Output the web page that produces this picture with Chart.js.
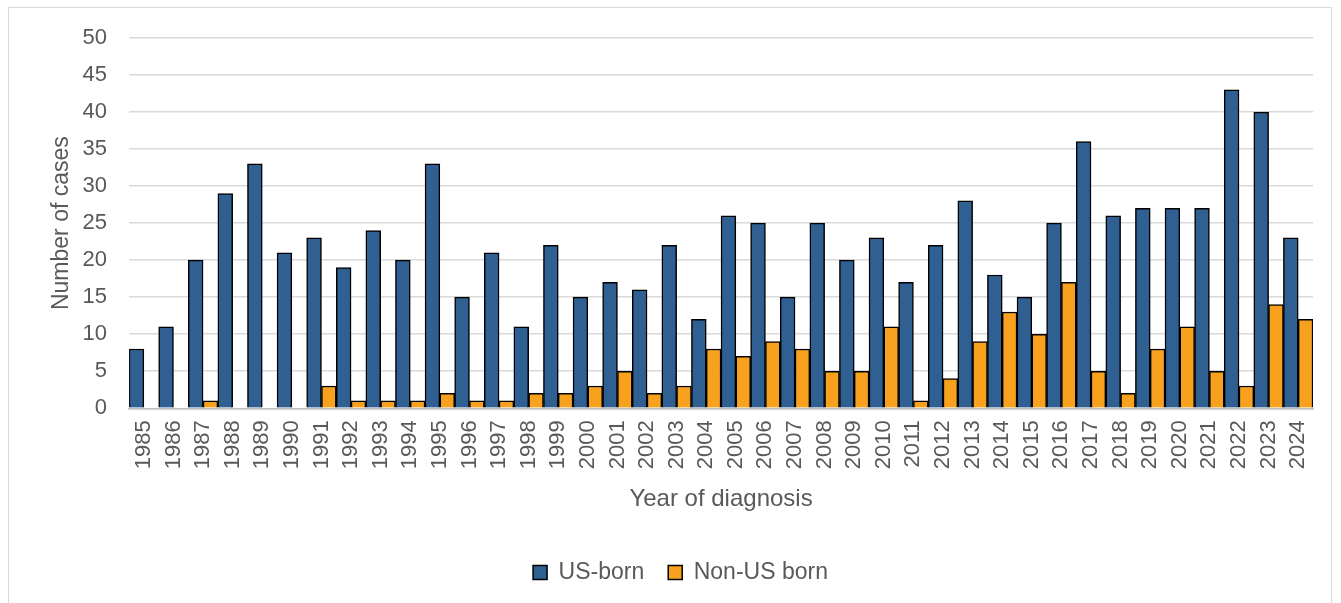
<!DOCTYPE html>
<html>
<head>
<meta charset="utf-8">
<script src="https://cdn.jsdelivr.net/npm/chart.js@4/dist/chart.umd.min.js"></script>
<style>
  html, body { margin: 0; padding: 0; background: #fff; overflow: hidden; }
  #frame {
    position: absolute; left: 8px; top: 7px;
    width: 1324px; height: 620px;
    border: 1px solid #d9d9d9; box-sizing: border-box;
  }
  #wrap { position: absolute; left: 1px; top: 1px; width: 1322px; height: 595px; }
</style>
</head>
<body>
<div id="frame"><div id="wrap"><canvas id="casesChart"></canvas></div></div>
<script>
const years = ['1985','1986','1987','1988','1989','1990','1991','1992','1993','1994',
  '1995','1996','1997','1998','1999','2000','2001','2002','2003','2004',
  '2005','2006','2007','2008','2009','2010','2011','2012','2013','2014',
  '2015','2016','2017','2018','2019','2020','2021','2022','2023','2024'];
const usBorn = [8, 11, 20, 29, 33, 21, 23, 19, 24, 20,
  33, 15, 21, 11, 22, 15, 17, 16, 22, 12,
  26, 25, 15, 25, 20, 23, 17, 22, 28, 18,
  15, 25, 36, 26, 27, 27, 27, 43, 40, 23];
const nonUsBorn = [0, 0, 1, 0, 0, 0, 3, 1, 1, 1,
  2, 1, 1, 2, 2, 3, 5, 2, 3, 8,
  7, 9, 8, 5, 5, 11, 1, 4, 9, 13,
  10, 17, 5, 2, 8, 11, 5, 3, 14, 12];
const yTicks = [0, 5, 10, 15, 20, 25, 30, 35, 40, 45, 50];

const textColor = '#595959';
const fontFamily = '"Liberation Sans", Arial, sans-serif';

// zero values get no bar at all (no outline, no fill)
const outline = ctx => (ctx.raw === 0 ? 0 : 1.5);
const fillFor = color => ctx => (ctx.raw === 0 ? 'rgba(0,0,0,0)' : color);

const ctx = document.getElementById('casesChart').getContext('2d');
window.casesChart = new Chart(ctx, {
  type: 'bar',
  data: {
    labels: years,
    datasets: [{
      label: 'US-born',
      data: usBorn,
      backgroundColor: fillFor('#305F92'),
      borderColor: '#000000',
      borderWidth: outline,
      borderSkipped: 'bottom',
      categoryPercentage: 1.0,
      barPercentage: 1.0
    }, {
      label: 'Non-US born',
      data: nonUsBorn,
      backgroundColor: fillFor('#F8A11E'),
      borderColor: '#000000',
      borderWidth: outline,
      borderSkipped: 'bottom',
      categoryPercentage: 1.0,
      barPercentage: 1.0
    }]
  },
  options: {
    responsive: true,
    maintainAspectRatio: false,
    animation: false,
    layout: { padding: { left: 38, right: 19, top: 29, bottom: 10 } },
    plugins: {
      legend: {
        position: 'bottom',
        labels: {
          color: textColor,
          font: { family: fontFamily, size: 23 },
          boxWidth: 14,
          boxHeight: 14,
          padding: 24,
          generateLabels: chart => chart.data.datasets.map((ds, i) => ({
            text: ds.label,
            fillStyle: i === 0 ? '#305F92' : '#F8A11E',
            strokeStyle: '#000000',
            lineWidth: 1.5,
            fontColor: textColor,
            datasetIndex: i
          }))
        }
      },
      tooltip: { enabled: false }
    },
    scales: {
      x: {
        afterFit: axis => { axis.paddingRight = 0; axis.paddingTop = 0; },
        grid: { display: false, drawTicks: false },
        border: { color: '#bfbfbf', width: 1.5 },
        ticks: {
          color: textColor,
          font: { family: fontFamily, size: 22 },
          maxRotation: 90,
          minRotation: 90,
          autoSkip: false,
          padding: 12
        },
        title: {
          display: true,
          text: 'Year of diagnosis',
          color: textColor,
          font: { family: fontFamily, size: 24 },
          padding: { top: 4, bottom: 23 }
        }
      },
      y: {
        min: 0,
        max: 50,
        afterBuildTicks: axis => { axis.ticks = yTicks.map(v => ({ value: v })); },
        afterFit: axis => { axis.paddingTop = 0; axis.paddingRight = 0; },
        grid: { color: '#d9d9d9', lineWidth: 1.5, drawTicks: false },
        border: { display: false },
        ticks: {
          color: textColor,
          font: { family: fontFamily, size: 22 },
          padding: 22
        },
        title: {
          display: true,
          text: 'Number of cases',
          color: textColor,
          font: { family: fontFamily, size: 23 },
          padding: { top: 0, bottom: -15 }
        }
      }
    }
  }
});
</script>
</body>
</html>
